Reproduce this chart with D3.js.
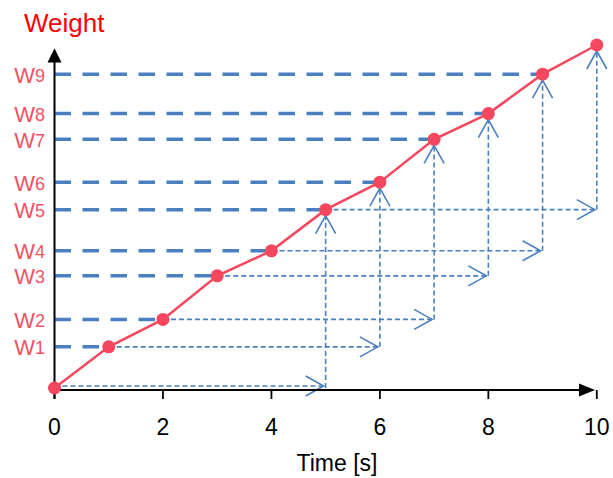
<!DOCTYPE html>
<html>
<head>
<meta charset="utf-8">
<script src="https://cdn.jsdelivr.net/npm/d3@7"></script>
<style>
  html, body { margin: 0; padding: 0; background: #fff; }
  svg { display: block; font-family: Arial, "Liberation Sans", sans-serif; }
</style>
</head>
<body>
<svg id="chart" width="613" height="478"></svg>
<script>
// ---- data ----
const times = [0, 1, 2, 3, 4, 5, 6, 7, 8, 9, 10];
const weights = [0, 1.2, 2.0, 3.27, 4.0, 5.2, 6.0, 7.25, 8.0, 9.15, 10.0];
const weightLabels = ["W1", "W2", "W3", "W4", "W5", "W6", "W7", "W8", "W9"];
const xTicks = [0, 2, 4, 6, 8, 10];
const lag = 5;
const xTitle = "Time [s]";
const yTitle = "Weight";

// ---- styles ----
const RED = "#f5475e";
const LABEL_RED = "#f25266";
const BLUE = "#4a80c0";

const svg = d3.select("#chart");
const x = d3.scaleLinear().domain([0, 10]).range([54.5, 596.8]);
const y = d3.scaleLinear().domain([0, 10]).range([388, 45]);

const axisY = y(0) + 2;

// thick dashed levels from y axis to point i
const gLevels = svg.append("g");
weightLabels.forEach((lab, k) => {
  const i = k + 1;
  gLevels.append("line")
    .attr("x1", x(0)).attr("x2", x(times[i]))
    .attr("y1", y(weights[i])).attr("y2", y(weights[i]))
    .attr("stroke", BLUE).attr("stroke-width", 3.5)
    .attr("stroke-dasharray", "16.5,11.5");
});

// thin dashed projections
const gProj = svg.append("g");
for (let i = 0; i + lag < times.length; i++) {
  const j = i + lag;
  const yy = y(weights[i]) - (i === 0 ? 2 : 0);
  const xx = x(times[j]);
  gProj.append("line")
    .attr("x1", x(times[i])).attr("x2", xx)
    .attr("y1", yy).attr("y2", yy)
    .attr("stroke", BLUE).attr("stroke-width", 1.6)
    .attr("stroke-dasharray", "5,3");
  gProj.append("line")
    .attr("x1", xx).attr("x2", xx)
    .attr("y1", i === 0 ? y(0) : yy).attr("y2", y(weights[j]))
    .attr("stroke", BLUE).attr("stroke-width", 1.6)
    .attr("stroke-dasharray", "5,3");
  const ax = xx - 2;
  gProj.append("path")
    .attr("d", `M${ax - 18},${yy - 10}L${ax},${yy}L${ax - 18},${yy + 10}`)
    .attr("fill", "none").attr("stroke", BLUE).attr("stroke-width", 1.6);
  const ay = y(weights[j]) + 6;
  gProj.append("path")
    .attr("d", `M${xx - 10},${ay + 18}L${xx},${ay}L${xx + 10},${ay + 18}`)
    .attr("fill", "none").attr("stroke", BLUE).attr("stroke-width", 1.6);
}

// axes
const gAxis = svg.append("g");
gAxis.append("line")
  .attr("x1", x(0)).attr("x2", 582).attr("y1", axisY).attr("y2", axisY)
  .attr("stroke", "#000").attr("stroke-width", 2);
gAxis.append("path")
  .attr("d", `M579,${axisY - 6.5}L595,${axisY}L579,${axisY + 6.5}Z`)
  .attr("fill", "#000");
gAxis.append("line")
  .attr("x1", x(0)).attr("x2", x(0)).attr("y1", 399).attr("y2", 60)
  .attr("stroke", "#000").attr("stroke-width", 2);
gAxis.append("path")
  .attr("d", `M${x(0) - 7},62.5L${x(0)},48.3L${x(0) + 7},62.5Z`)
  .attr("fill", "#000");

xTicks.forEach(t => {
  gAxis.append("line")
    .attr("x1", x(t)).attr("x2", x(t)).attr("y1", axisY).attr("y2", axisY + 9)
    .attr("stroke", "#000").attr("stroke-width", 1.8);
  gAxis.append("text")
    .attr("x", x(t)).attr("y", 435)
    .attr("text-anchor", "middle")
    .attr("font-size", 23).attr("fill", "#000")
    .text(t);
});

svg.append("text")
  .attr("x", 337).attr("y", 470.5)
  .attr("text-anchor", "middle")
  .attr("font-size", 23).attr("fill", "#000")
  .text(xTitle);

svg.append("text")
  .attr("x", 24).attr("y", 31.5)
  .attr("font-size", 26).attr("fill", "#ff0000")
  .text(yTitle);

// W labels
weightLabels.forEach((lab, k) => {
  const i = k + 1;
  const t = svg.append("text")
    .attr("x", 45).attr("y", y(weights[i]) + 8.5)
    .attr("text-anchor", "end")
    .attr("fill", LABEL_RED);
  t.append("tspan").attr("font-size", 22).text(lab[0]);
  t.append("tspan").attr("font-size", 18).attr("dy", -1).text(lab.slice(1));
});

// red series
svg.append("path")
  .datum(times.map((t, i) => [t, weights[i]]))
  .attr("d", d3.line().x(d => x(d[0])).y(d => y(d[1])))
  .attr("fill", "none").attr("stroke", RED).attr("stroke-width", 2.5);

svg.append("g").selectAll("circle")
  .data(times.map((t, i) => [t, weights[i]]))
  .join("circle")
  .attr("cx", d => x(d[0])).attr("cy", d => y(d[1]))
  .attr("r", 6.5).attr("fill", RED);
</script>
</body>
</html>
